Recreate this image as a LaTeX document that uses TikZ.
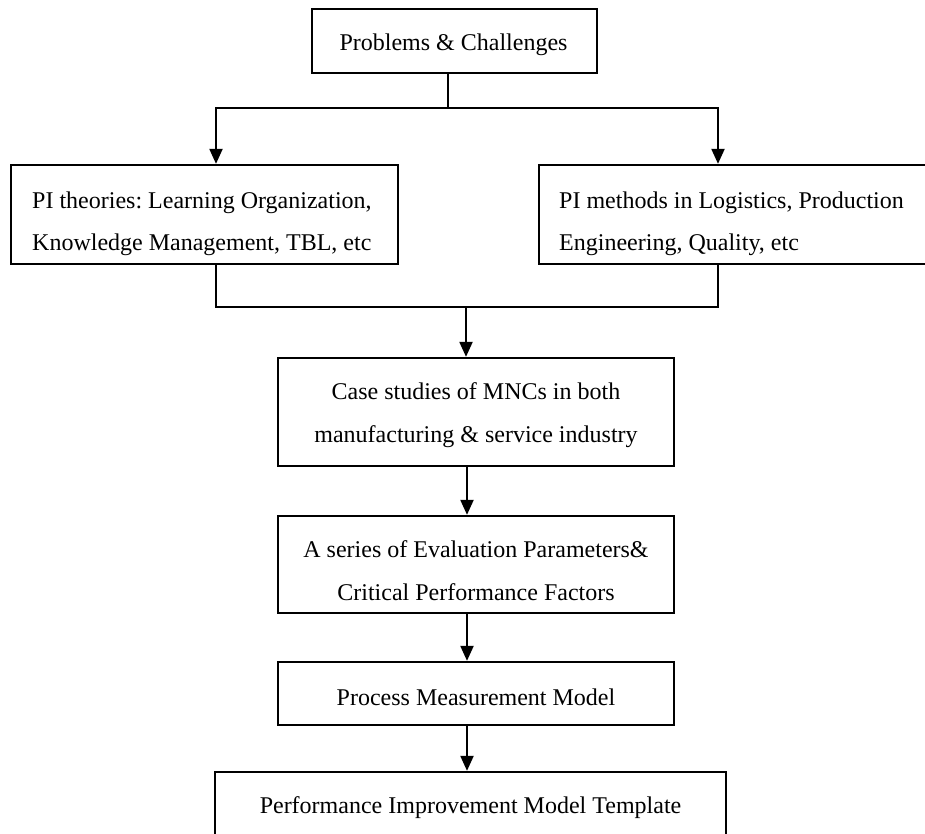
\documentclass[tikz,border=0pt]{standalone}
\usepackage{fontspec}
\setmainfont{Liberation Serif}
\usetikzlibrary{arrows.meta}
\frenchspacing
\begin{document}
\begin{tikzpicture}[x=1pt,y=-1pt,
  box/.style={draw=black, line width=2.3pt, inner sep=0pt, rectangle},
  txt/.style={inner sep=0pt, font=\fontsize{24}{43}\selectfont},
  conn/.style={draw=black, line width=2.1pt},
  arr/.style={conn, -{Triangle[length=15pt,width=13pt]}}]
\useasboundingbox (0,0) rectangle (925,834);
\clip (0,0) rectangle (925,834);
% boxes
\node[box, minimum width=285pt, minimum height=64pt] (top) at (454.5,41) {};
\node[box, minimum width=387pt, minimum height=99pt] (left) at (204.5,214.5) {};
\node[box, minimum width=388pt, minimum height=99pt] (right) at (733,214.5) {};
\node[box, minimum width=396pt, minimum height=108pt] (case) at (476,412) {};
\node[box, minimum width=396pt, minimum height=97pt] (eval) at (476,564.5) {};
\node[box, minimum width=396pt, minimum height=63pt] (proc) at (476,693.5) {};
\node[box, minimum width=511pt, minimum height=68pt] (final) at (470.5,806) {};
% texts
\node[txt] (toptext) at (453.5,41.9) {\strut Problems \& Challenges};
\node[txt, anchor=west, align=left] (lefttext) at (32,220.9)
  {\strut PI theories: Learning Organization,\\\strut Knowledge Management, TBL, etc};
\node[txt, anchor=west, align=left] (righttext) at (559,220.9)
  {\strut PI methods in Logistics, Production\\\strut Engineering, Quality, etc};
\node[txt, align=center] (casetext) at (476,412.4)
  {\strut Case studies of MNCs in both\\\strut manufacturing \& service industry};
\node[txt, align=center] (evaltext) at (476,569.9)
  {\strut A series of Evaluation Parameters\&\\\strut Critical Performance Factors};
\node[txt] (proctext) at (476,696.4) {\strut Process Measurement Model};
\node[txt] (finaltext) at (470.5,804.4) {\strut Performance Improvement Model Template};
% connector helpers
\coordinate (stem) at (448,108);
\coordinate (la) at (216,0);
\coordinate (ra) at (718,0);
\coordinate (join) at (466,307);
\coordinate (sp) at (467,0);
% connectors
\draw[conn] (top.south -| stem) -- (stem);
\draw[arr] (stem) -| (left.north -| la);
\draw[arr] (stem) -| (right.north -| ra);
\draw[conn] (left.south -| la) |- (join);
\draw[conn] (right.south -| ra) |- (join);
\draw[arr] (join) -- (case.north -| join);
\draw[arr] (case.south -| sp) -- (eval.north -| sp);
\draw[arr] (eval.south -| sp) -- (proc.north -| sp);
\draw[arr] (proc.south -| sp) -- (final.north -| sp);
\end{tikzpicture}
\end{document}
